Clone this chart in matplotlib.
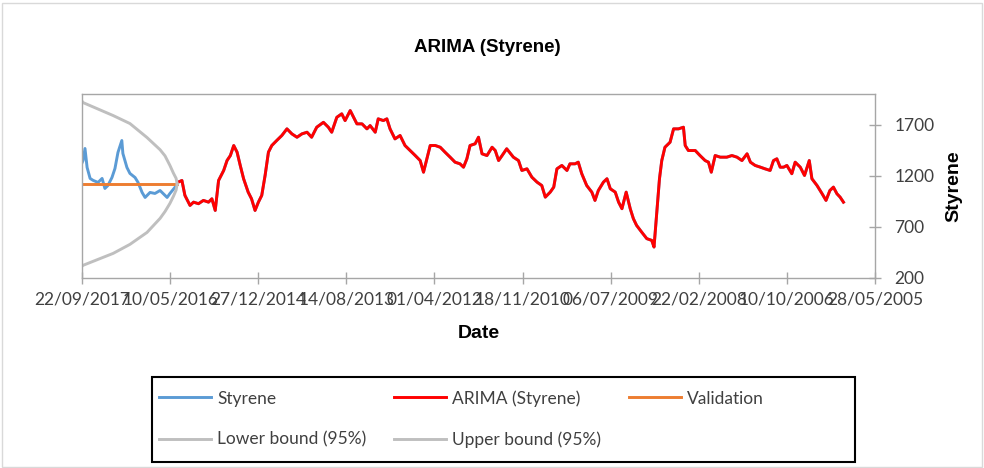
import matplotlib
matplotlib.use("Agg")
import matplotlib.pyplot as plt
import matplotlib.dates as mdates
from matplotlib.patches import Rectangle
from matplotlib.lines import Line2D
import pandas as pd

# ---------------- data ----------------
# recent observed Styrene prices (validation period), newest first
recent_dates = ['2017-09-21', '2017-09-16', '2017-09-05', '2017-08-24', '2017-08-07', '2017-07-21',
                '2017-06-23', '2017-05-31', '2017-05-15', '2017-04-28', '2017-04-05', '2017-03-19',
                '2017-03-02', '2017-02-08', '2017-02-02', '2017-01-10', '2016-12-24', '2016-11-25',
                '2016-11-08', '2016-10-16', '2016-09-29', '2016-09-01', '2016-08-04', '2016-07-06',
                '2016-06-19', '2016-05-27', '2016-05-11', '2016-04-13']
recent_values = [1330, 1349, 1467, 1281, 1174, 1155,
                 1135, 1174, 1076, 1105, 1183, 1271,
                 1428, 1545, 1418, 1281, 1223, 1183,
                 1135, 1037, 988, 1037, 1027, 1056,
                 1027, 988, 1027, 1086]

# historical period (ARIMA fit overlays the observed series), newest first
hist_dates = ['2016-03-25', '2016-03-04', '2016-02-16', '2016-01-18', '2015-12-29', '2015-12-01',
              '2015-11-03', '2015-10-05', '2015-09-16', '2015-08-28', '2015-08-09', '2015-07-11',
              '2015-06-22', '2015-06-03', '2015-05-15', '2015-04-26', '2015-04-08', '2015-03-20',
              '2015-02-22', '2015-02-03', '2015-01-14', '2014-12-26', '2014-12-07', '2014-11-18',
              '2014-10-30', '2014-10-11', '2014-09-13', '2014-08-15', '2014-07-17', '2014-06-19',
              '2014-05-21', '2014-04-23', '2014-03-25', '2014-02-27', '2014-01-29', '2013-12-22',
              '2013-11-24', '2013-11-05', '2013-10-07', '2013-09-09', '2013-08-21', '2013-07-23',
              '2013-07-04', '2013-06-15', '2013-05-17', '2013-04-19', '2013-04-01', '2013-03-03',
              '2013-02-14', '2013-01-16', '2012-12-27', '2012-12-09', '2012-11-11', '2012-10-13',
              '2012-09-15', '2012-08-17', '2012-07-19', '2012-06-21', '2012-06-02', '2012-05-14',
              '2012-04-25', '2012-03-27', '2012-02-28', '2012-02-01', '2012-01-03', '2011-12-06',
              '2011-11-08', '2011-10-19', '2011-09-30', '2011-09-12', '2011-08-14', '2011-07-26',
              '2011-07-06', '2011-06-08', '2011-05-10', '2011-04-22', '2011-04-03', '2011-03-14',
              '2011-02-16', '2011-01-09', '2010-12-11', '2010-11-22', '2010-10-24', '2010-09-26',
              '2010-08-28', '2010-08-01', '2010-07-12', '2010-06-14', '2010-05-25', '2010-05-07',
              '2010-04-09', '2010-03-11', '2010-02-22', '2010-01-24', '2010-01-06', '2009-12-17',
              '2009-11-19', '2009-10-21', '2009-10-03', '2009-09-14', '2009-08-16', '2009-07-27',
              '2009-07-08', '2009-06-10', '2009-05-22', '2009-05-03', '2009-04-09', '2009-03-17',
              '2009-02-27', '2009-02-09', '2009-01-11', '2008-12-13', '2008-11-15', '2008-11-02',
              '2008-10-17', '2008-10-02', '2008-09-19', '2008-09-01', '2008-08-03', '2008-07-14',
              '2008-06-16', '2008-05-19', '2008-05-09', '2008-04-21', '2008-03-13', '2008-02-15',
              '2008-01-17', '2007-12-29', '2007-12-13', '2007-11-21', '2007-10-23', '2007-09-16',
              '2007-08-18', '2007-07-20', '2007-06-22', '2007-05-24', '2007-05-05', '2007-04-08',
              '2007-03-09', '2007-02-11', '2007-01-13', '2006-12-25', '2006-12-06', '2006-11-17',
              '2006-10-29', '2006-10-10', '2006-09-12', '2006-08-24', '2006-07-26', '2006-07-02',
              '2006-06-05', '2006-05-21', '2006-04-22', '2006-03-24', '2006-03-02', '2006-02-08',
              '2006-01-19', '2005-12-30', '2005-12-12', '2005-11-23']
hist_values = [1138, 1154, 1008, 910, 942, 927,
               959, 942, 975, 861, 1154, 1252,
               1349, 1398, 1496, 1431, 1301, 1171,
               1040, 975, 861, 942, 1008, 1203,
               1431, 1496, 1545, 1594, 1659, 1610,
               1577, 1610, 1626, 1577, 1675, 1723,
               1675, 1626, 1772, 1806, 1740, 1838,
               1772, 1708, 1708, 1659, 1691, 1626,
               1757, 1740, 1757, 1659, 1561, 1594,
               1496, 1447, 1398, 1349, 1235, 1366,
               1496, 1496, 1479, 1431, 1382, 1333,
               1317, 1284, 1366, 1496, 1513, 1577,
               1415, 1398, 1479, 1447, 1349, 1398,
               1464, 1382, 1349, 1252, 1268, 1186,
               1138, 1105, 991, 1040, 1089, 1268,
               1301, 1252, 1317, 1317, 1333, 1220,
               1105, 1040, 959, 1056, 1138, 1171,
               1073, 1040, 942, 878, 1040, 878,
               780, 715, 649, 585, 568, 503,
               845, 1171, 1349, 1479, 1528, 1659,
               1659, 1675, 1496, 1447, 1447, 1398,
               1349, 1333, 1235, 1398, 1382, 1382,
               1398, 1382, 1349, 1415, 1333, 1301,
               1284, 1268, 1252, 1349, 1366, 1284,
               1284, 1301, 1220, 1333, 1284, 1203,
               1349, 1171, 1105, 1024, 959, 1056,
               1089, 1024, 991, 942]

# forecast (validation) level and 95% bounds
validation_dates = ['2017-09-22', '2016-03-31']
validation_values = [1120, 1120]
bound_dates = ['2017-09-22', '2017-09-16', '2017-03-29', '2016-12-24', '2016-09-18', '2016-07-06',
               '2016-06-08', '2016-05-11', '2016-04-21', '2016-04-06', '2016-03-31']
upper_values = [1930, 1916, 1789, 1711, 1574, 1455, 1395, 1301, 1225, 1175, 1120]
lower_values = [315, 324, 441, 529, 646, 783, 850, 930, 1000, 1060, 1120]

tick_dates = ['2017-09-22', '2016-05-10', '2014-12-27', '2013-08-14', '2012-04-01',
              '2010-11-18', '2009-07-06', '2008-02-22', '2006-10-10', '2005-05-28']
y_ticks = [200, 700, 1200, 1700]

series_names = ['Styrene', 'ARIMA (Styrene)', 'Validation', 'Lower bound (95%)', 'Upper bound (95%)']
series_colors = ['#5B9BD5', '#FF0000', '#ED7D31', '#BFBFBF', '#BFBFBF']

# ---------------- plot ----------------
W, H = 984, 468
fig = plt.figure(figsize=(W / 100, H / 100), dpi=100)
fig.patch.set_facecolor('white')
fig.patches.append(Rectangle((1.5 / W, 1.5 / H), 1 - 4 / W, 1 - 4 / H, transform=fig.transFigure,
                             fill=False, edgecolor='#D9D9D9', lw=1.0))

ax = fig.add_axes([82 / W, 1 - 278 / H, 793 / W, 184 / H])

styrene_d = pd.to_datetime(recent_dates + hist_dates)
styrene_v = recent_values + hist_values
lw = 2.1
ax.plot(styrene_d, styrene_v, color=series_colors[0], lw=lw, solid_joinstyle='round')
ax.plot(pd.to_datetime(hist_dates), hist_values, color=series_colors[1], lw=lw, solid_joinstyle='round')
ax.plot(pd.to_datetime(validation_dates), validation_values, color=series_colors[2], lw=lw)
ax.plot(pd.to_datetime(bound_dates), lower_values, color=series_colors[3], lw=lw)
ax.plot(pd.to_datetime(bound_dates), upper_values, color=series_colors[4], lw=lw)

ticks = pd.to_datetime(tick_dates)
ax.set_xlim(ticks[0], ticks[-1])
ax.set_xticks(ticks)
ax.xaxis.set_major_formatter(mdates.DateFormatter('%d/%m/%Y'))
ax.set_ylim(200, 2000)
ax.set_yticks(y_ticks)
ax.yaxis.tick_right()
ax.yaxis.set_label_position('right')

for s in ax.spines.values():
    s.set_color('#A6A6A6')
    s.set_linewidth(1.0)

ax.tick_params(axis='both', direction='inout', length=8, width=1.0, color='#A6A6A6',
               labelsize=12.5, labelcolor='#404040')
ax.tick_params(axis='x', pad=6)
ax.tick_params(axis='y', pad=10)
for lab in ax.get_xticklabels() + ax.get_yticklabels():
    lab.set_fontfamily('Lato')

ax.set_xlabel('Date', fontsize=14, fontweight='bold', family='Liberation Sans', labelpad=12,
              color='#000000')
ax.set_ylabel('Styrene', fontsize=14, fontweight='bold', family='Liberation Sans', labelpad=8,
              rotation=90, color='#000000')

fig.text(0.495, 1 - 47 / H, 'ARIMA (Styrene)', fontsize=13.5, fontweight='bold',
         family='Liberation Sans', ha='center', va='center')

# legend
fig.patches.append(Rectangle((152 / W, 1 - 462 / H), (855 - 152) / W, (462 - 377) / H,
                             transform=fig.transFigure, fill=False, edgecolor='black', lw=1.5))
handles = [Line2D([], [], color=c, lw=lw) for c in series_colors]
order = [0, 3, 1, 4, 2]
leg = fig.legend([handles[i] for i in order], [series_names[i] for i in order],
                 loc='upper left', bbox_to_anchor=(159 / W, 1 - 390 / H), ncol=3, frameon=False,
                 prop={'family': 'Lato', 'size': 12.5}, handlelength=3.0, handletextpad=0.35,
                 columnspacing=1.6, labelspacing=1.45, borderpad=0, borderaxespad=0)
for t in leg.get_texts():
    t.set_color('#404040')

fig.savefig('out.png', dpi=100, facecolor='white')
